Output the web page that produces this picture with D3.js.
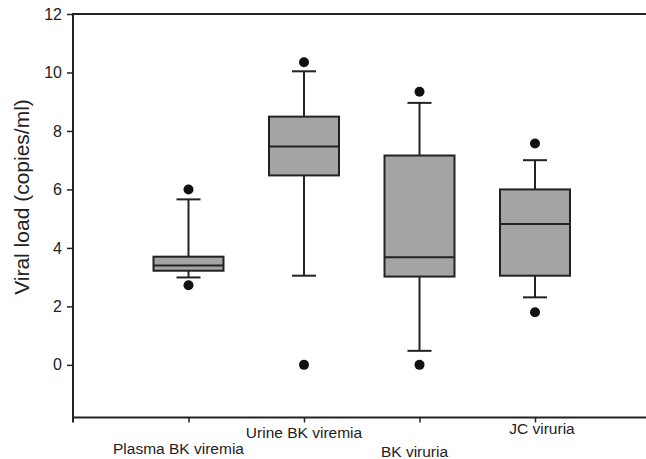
<html>

<head>
  <title>Viral load box plot</title>
  <style>
    body { margin: 0; background: #fff; }
    text { font-family: "Liberation Sans", Arial, sans-serif; fill: #222; }
  </style>
</head>

<body>
  <script src="https://d3js.org/d3.v7.min.js"></script>
  <script>
    // data
    var categories = ["Plasma BK viremia", "Urine BK viremia", "BK viruria", "JC viruria"];
    var lowerWhisker = [2.99, 3.05, 0.48, 2.31];
    var q1 = [3.22, 6.48, 3.02, 3.05];
    var median = [3.40, 7.47, 3.68, 4.82];
    var q3 = [3.70, 8.49, 7.16, 6.00];
    var upperWhisker = [5.66, 10.04, 8.96, 7.00];
    var outliers = [[6.0, 2.72], [10.35, 0.0], [9.34, 0.0], [7.57, 1.8]];
    var yTicks = [0, 2, 4, 6, 8, 10, 12];

    var width = 646, height = 459;
    var plotLeft = 73, plotTop = 14, plotBottom = 417.5;

    var svg = d3.select("body")
      .append("svg")
      .attr("width", width)
      .attr("height", height);

    var x = d3.scaleLinear().domain([0, 5]).range([plotLeft, 650.5]);
    var y = d3.scaleLinear().domain([-1.8, 12]).range([plotBottom, plotTop]);

    // frame: top line, y axis line
    svg.append("line")
      .attr("x1", plotLeft).attr("x2", width)
      .attr("y1", y(12)).attr("y2", y(12))
      .attr("stroke", "#222").attr("stroke-width", 2);

    svg.append("line")
      .attr("x1", plotLeft).attr("x2", plotLeft)
      .attr("y1", y(12) - 1).attr("y2", plotBottom + 5)
      .attr("stroke", "#222").attr("stroke-width", 2);

    var yAxis = d3.axisLeft(y)
      .tickValues(yTicks)
      .tickSize(6)
      .tickPadding(5);
    var gy = svg.append("g")
      .attr("transform", "translate(" + plotLeft + ",0)")
      .call(yAxis);
    gy.select(".domain").remove();
    gy.selectAll(".tick line").attr("stroke", "#222").attr("stroke-width", 1.5);
    gy.selectAll(".tick text")
      .attr("font-size", 16)
      .attr("font-family", "Liberation Sans, Arial, sans-serif")
      .attr("fill", "#222");

    var xAxis = d3.axisBottom(x)
      .tickValues([1, 2, 3, 4])
      .tickSize(5)
      .tickSizeOuter(0)
      .tickFormat("");
    var gx = svg.append("g")
      .attr("transform", "translate(0," + plotBottom + ")")
      .call(xAxis);
    gx.select(".domain")
      .attr("d", "M" + plotLeft + ",0H" + width)
      .attr("stroke", "#222").attr("stroke-width", 2);
    gx.selectAll(".tick line").attr("stroke", "#222").attr("stroke-width", 1.5);

    // staggered category labels
    var labelShift = [[-10, 454], [0, 437.5], [-5, 456.5], [7, 433.5]];
    svg.selectAll(".cat")
      .data(categories)
      .enter()
      .append("text")
      .attr("class", "cat")
      .attr("x", function (d, i) { return x(i + 1) + labelShift[i][0]; })
      .attr("y", function (d, i) { return labelShift[i][1]; })
      .attr("text-anchor", "middle")
      .attr("font-size", 15.5)
      .text(function (d) { return d; });

    svg.append("text")
      .attr("transform", "rotate(-90)")
      .attr("x", -197)
      .attr("y", 29)
      .attr("text-anchor", "middle")
      .attr("font-size", 21)
      .text("Viral load (copies/ml)");

    // boxes
    var boxW = 70, capW = 24;
    var g = svg.selectAll(".box")
      .data(categories)
      .enter()
      .append("g")
      .attr("class", "box");

    g.append("line")
      .attr("x1", function (d, i) { return x(i + 1); })
      .attr("x2", function (d, i) { return x(i + 1); })
      .attr("y1", function (d, i) { return y(upperWhisker[i]); })
      .attr("y2", function (d, i) { return y(lowerWhisker[i]); })
      .attr("stroke", "#222").attr("stroke-width", 2);

    g.append("line")
      .attr("x1", function (d, i) { return x(i + 1) - capW / 2; })
      .attr("x2", function (d, i) { return x(i + 1) + capW / 2; })
      .attr("y1", function (d, i) { return y(upperWhisker[i]); })
      .attr("y2", function (d, i) { return y(upperWhisker[i]); })
      .attr("stroke", "#222").attr("stroke-width", 2);

    g.append("line")
      .attr("x1", function (d, i) { return x(i + 1) - capW / 2; })
      .attr("x2", function (d, i) { return x(i + 1) + capW / 2; })
      .attr("y1", function (d, i) { return y(lowerWhisker[i]); })
      .attr("y2", function (d, i) { return y(lowerWhisker[i]); })
      .attr("stroke", "#222").attr("stroke-width", 2);

    g.append("rect")
      .attr("x", function (d, i) { return x(i + 1) - boxW / 2; })
      .attr("y", function (d, i) { return y(q3[i]); })
      .attr("width", boxW)
      .attr("height", function (d, i) { return y(q1[i]) - y(q3[i]); })
      .attr("fill", "#a4a4a4")
      .attr("stroke", "#222").attr("stroke-width", 2);

    g.append("line")
      .attr("x1", function (d, i) { return x(i + 1) - boxW / 2; })
      .attr("x2", function (d, i) { return x(i + 1) + boxW / 2; })
      .attr("y1", function (d, i) { return y(median[i]); })
      .attr("y2", function (d, i) { return y(median[i]); })
      .attr("stroke", "#222").attr("stroke-width", 2);

    g.selectAll(".outlier")
      .data(function (d, i) { return outliers[i].map(function (v) { return { i: i, v: v }; }); })
      .enter()
      .append("circle")
      .attr("class", "outlier")
      .attr("cx", function (d) { return x(d.i + 1); })
      .attr("cy", function (d) { return y(d.v); })
      .attr("r", 5)
      .attr("fill", "#111");
  </script>
</body>

</html>
